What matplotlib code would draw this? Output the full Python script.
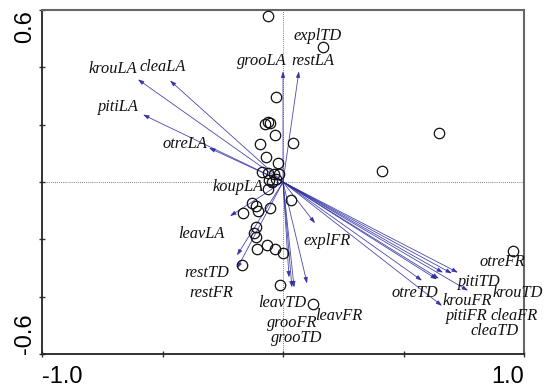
import matplotlib
matplotlib.use("Agg")
import matplotlib.pyplot as plt
import numpy as np

# ---- data ----
sample_x = [-0.062, 0.166, -0.029, -0.075, -0.062, -0.054, -0.033, 0.041, -0.095, -0.071,
            -0.021, -0.087, -0.062, -0.037, -0.017, -0.058, -0.062, 0.647, 0.411, 0.033,
            -0.129, -0.112, -0.104, -0.166, -0.054, -0.112, -0.120, -0.112, -0.108, -0.066,
            -0.033, 0.000, -0.170, -0.012, 0.124, 0.954, -0.030, -0.045]
sample_y = [0.579, 0.470, 0.295, 0.204, 0.211, 0.207, 0.165, 0.137, 0.133, 0.088,
            0.067, 0.035, 0.032, 0.028, 0.028, 0.007, -0.025, 0.172, 0.039, -0.063,
            -0.074, -0.084, -0.102, -0.109, -0.091, -0.158, -0.179, -0.193, -0.235, -0.221,
            -0.232, -0.249, -0.291, -0.361, -0.424, -0.242, 0.010, 0.000]

species = ["krouLA", "cleaLA", "pitiLA", "otreLA", "grooLA", "restLA", "koupLA",
           "leavLA", "restTD", "restFR", "explFR", "leavTD", "grooFR", "grooTD", "leavFR",
           "otreFR", "pitiTD", "cleaFR", "krouFR", "cleaTD", "krouTD", "pitiFR", "otreTD"]
species_x = [-0.602, -0.469, -0.581, -0.307, 0.000, 0.066, -0.060,
             -0.220, -0.191, -0.191, 0.133, 0.025, 0.037, 0.046, 0.100,
             0.726, 0.701, 0.664, 0.647, 0.639, 0.768, 0.660, 0.577]
species_y = [0.358, 0.354, 0.235, 0.119, 0.386, 0.386, -0.020,
             -0.119, -0.256, -0.302, -0.144, -0.333, -0.368, -0.368, -0.354,
             -0.316, -0.319, -0.316, -0.337, -0.340, -0.379, -0.432, -0.344]

# label placement (layout)
label_names = ["krouLA", "cleaLA", "pitiLA", "otreLA", "grooLA", "restLA", "explTD", "koupLA",
               "leavLA", "restTD", "restFR", "explFR", "leavTD", "grooFR", "grooTD", "leavFR",
               "otreFR", "pitiTD", "krouTD", "krouFR", "otreTD", "pitiFR", "cleaFR", "cleaTD"]
label_px = [(113, 70), (163, 68), (118, 107), (185, 144), (262, 62), (313, 62), (318, 37), (238, 187),
            (201, 234), (207, 272), (211, 292), (327, 241), (282, 302), (292, 322), (297, 337), (339, 315),
            (502, 262), (479, 281), (518, 292), (467, 300), (415, 292), (467, 315), (514, 315), (495, 330)]

W, H = 555, 387
L, R, T, B = 42, 524, 10, 354
fig = plt.figure(figsize=(W / 100, H / 100), dpi=100)
ax = fig.add_axes([L / W, 1 - B / H, (R - L) / W, (B - T) / H])
ax.set_xlim(-1.0, 1.0)
ax.set_ylim(-0.6, 0.6)

ax.axhline(0, color="#555555", lw=0.6, ls=(0, (1, 1.5)), zorder=1)
ax.axvline(0, color="#555555", lw=0.6, ls=(0, (1, 1.5)), zorder=1)

for sx, sy in zip(species_x, species_y):
    ax.annotate("", xy=(sx, sy), xytext=(0, 0),
                arrowprops=dict(arrowstyle="-|>,head_length=0.35,head_width=0.12",
                                color="#2a2aa0", lw=0.6, alpha=0.85,
                                shrinkA=0, shrinkB=0), zorder=2)

ax.plot(sample_x, sample_y, "o", mfc="none", mec="#111111", ms=7.5, mew=0.9, zorder=3)

def px2data(px, py):
    return (px - 283) / 241.0, (182 - py) / 285.0

for name, (px, py) in zip(label_names, label_px):
    dx, dy = px2data(px, py)
    ax.text(dx, dy, name, family="Liberation Serif", style="italic", fontsize=11.8,
            ha="center", va="center", color="#111111", zorder=4, clip_on=False)

ax.set_xticks([-1.0, -0.5, 0.0, 0.5, 1.0])
ax.set_xticklabels(["-1.0", "", "", "", "1.0"])
ax.set_yticks([-0.6, -0.4, -0.2, 0.0, 0.2, 0.4, 0.6])
ax.set_yticklabels(["-0.6", "", "", "", "", "", "0.6"])
ax.tick_params(axis="both", direction="inout", length=5, width=1, color="#333333",
               labelsize=17)
ax.tick_params(axis="x", pad=6)
ax.tick_params(axis="y", pad=2)
for lab in ax.get_xticklabels():
    lab.set_family("Liberation Sans")
xl = ax.get_xticklabels()
xl[0].set_ha("left")
xl[-1].set_ha("right")
for lab in ax.get_yticklabels():
    lab.set_family("Liberation Sans")
    lab.set_rotation(90)
yl = ax.get_yticklabels()
yl[0].set_va("bottom")
yl[-1].set_va("top")

for side in ["left", "bottom"]:
    ax.spines[side].set_color("#222222")
    ax.spines[side].set_linewidth(1.3)
for side in ["top", "right"]:
    ax.spines[side].set_color("#666666")
    ax.spines[side].set_linewidth(1.5)

fig.savefig("out.png", dpi=100)
